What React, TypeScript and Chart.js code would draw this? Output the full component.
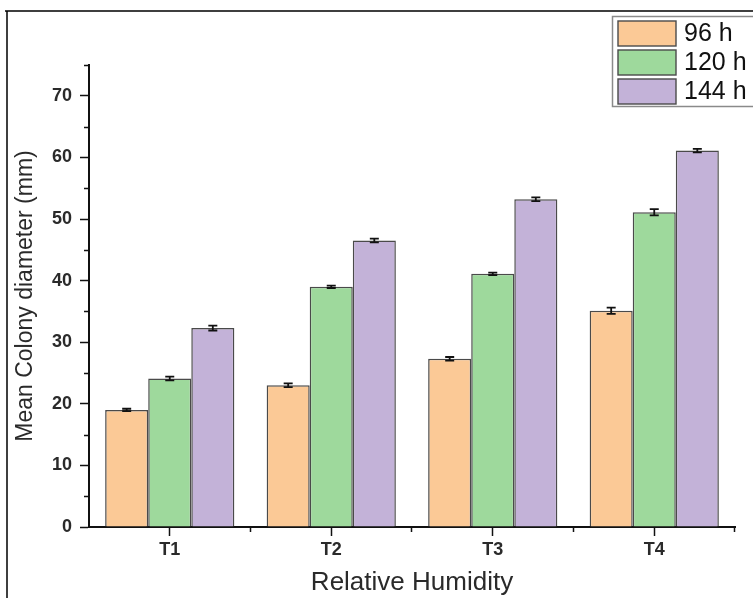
import React, { useEffect, useRef } from 'react';
import { Chart, registerables } from 'chart.js';

Chart.register(...registerables);

const categories = ['T1', 'T2', 'T3', 'T4'];
const seriesLabels = ['96 h', '120 h', '144 h'];
const series96 = [19.0, 23.0, 27.3, 35.1];
const series120 = [24.1, 39.0, 41.1, 51.1];
const series144 = [32.3, 46.5, 53.2, 61.1];
const err96 = [0.2, 0.3, 0.3, 0.5];
const err120 = [0.3, 0.2, 0.2, 0.5];
const err144 = [0.4, 0.3, 0.3, 0.3];
const yMin = 0;
const yMax = 75;
const yStep = 10;
const yMinorStep = 5;

const seriesValues = [series96, series120, series144];
const seriesErrors = [err96, err120, err144];
const seriesColors = ['#FBC996', '#9ED99C', '#C3B2D8'];

const FONT = '"Liberation Sans", Arial, Helvetica, sans-serif';

export default function App() {
  const ref = useRef<HTMLCanvasElement>(null);

  useEffect(() => {
    document.body.style.margin = '0';
    const canvas = ref.current;
    if (!canvas) return;

    const background = {
      id: 'background',
      beforeDraw(chart: any) {
        const ctx = chart.ctx;
        ctx.save();
        ctx.fillStyle = '#ffffff';
        ctx.fillRect(0, 0, chart.width, chart.height);
        ctx.strokeStyle = '#000000';
        ctx.lineWidth = 1.5;
        ctx.beginPath();
        ctx.moveTo(5, 11);
        ctx.lineTo(chart.width, 11);
        ctx.moveTo(7, 11);
        ctx.lineTo(7, chart.height);
        ctx.stroke();
        ctx.restore();
      },
    };

    const errorBars = {
      id: 'errorBars',
      afterDatasetsDraw(chart: any) {
        const ctx = chart.ctx;
        const y = chart.scales.y;
        chart.data.datasets.forEach((ds: any, i: number) => {
          const meta = chart.getDatasetMeta(i);
          const errs = seriesErrors[i];
          meta.data.forEach((el: any, j: number) => {
            const v = ds.data[j];
            const e = errs[j];
            const yt = y.getPixelForValue(v + e);
            const yb = y.getPixelForValue(v - e);
            ctx.save();
            ctx.strokeStyle = '#111111';
            ctx.lineWidth = 1.8;
            ctx.beginPath();
            ctx.moveTo(el.x, yt);
            ctx.lineTo(el.x, yb);
            ctx.moveTo(el.x - 4.5, yt);
            ctx.lineTo(el.x + 4.5, yt);
            ctx.moveTo(el.x - 4.5, yb);
            ctx.lineTo(el.x + 4.5, yb);
            ctx.stroke();
            ctx.restore();
          });
        });
      },
    };

    const minorTicks = {
      id: 'minorTicks',
      afterDraw(chart: any) {
        const ctx = chart.ctx;
        const ys = chart.scales.y;
        const xs = chart.scales.x;
        const area = chart.chartArea;
        ctx.save();
        ctx.strokeStyle = '#111111';
        ctx.lineWidth = 1.5;
        ctx.beginPath();
        for (let v = yMin + yMinorStep; v <= yMax; v += yStep) {
          const py = Math.round(ys.getPixelForValue(v)) + 0.5;
          ctx.moveTo(area.left - 5, py);
          ctx.lineTo(area.left, py);
        }
        const n = categories.length;
        for (let k = 1; k <= n; k++) {
          const px = Math.round(xs.left + (k * (xs.right - xs.left)) / n) - 0.5;
          ctx.moveTo(px, area.bottom);
          ctx.lineTo(px, area.bottom + 5);
        }
        ctx.stroke();
        ctx.restore();
      },
    };

    const boxLegend = {
      id: 'boxLegend',
      afterDraw(chart: any) {
        const ctx = chart.ctx;
        ctx.save();
        ctx.fillStyle = '#ffffff';
        ctx.fillRect(612, 16, 141, 91);
        ctx.strokeStyle = '#8a8a8a';
        ctx.lineWidth = 1.5;
        ctx.strokeRect(612.5, 16.5, 145, 90);
        chart.data.datasets.forEach((ds: any, i: number) => {
          const top = 21 + i * 29;
          ctx.fillStyle = ds.backgroundColor;
          ctx.fillRect(618, top, 58, 25);
          ctx.strokeStyle = '#4a4a4a';
          ctx.lineWidth = 1.4;
          ctx.strokeRect(618, top, 58, 25);
          ctx.fillStyle = '#111111';
          ctx.font = `25px ${FONT}`;
          ctx.textBaseline = 'middle';
          ctx.textAlign = 'left';
          ctx.fillText(ds.label, 684, top + 13);
        });
        ctx.restore();
      },
    };

    const chart = new Chart(canvas, {
      type: 'bar',
      data: {
        labels: categories,
        datasets: seriesLabels.map((label, i) => ({
          label,
          data: seriesValues[i],
          backgroundColor: seriesColors[i],
          borderColor: '#4a4a4a',
          borderWidth: 1.5,
          categoryPercentage: 0.8,
          barPercentage: 1.0,
        })),
      },
      options: {
        responsive: false,
        animation: false,
        devicePixelRatio: 1,
        layout: { padding: { left: 0, top: 65, right: 18, bottom: 0 } },
        plugins: {
          legend: { display: false },
          tooltip: { enabled: false },
          title: { display: false },
        },
        scales: {
          x: {
            afterFit(scale: any) {
              scale.height = 71;
            },
            grid: {
              display: true,
              offset: false,
              drawOnChartArea: false,
              drawTicks: true,
              tickLength: 9,
              tickWidth: 1.5,
              tickColor: '#111111',
            },
            border: { display: true, color: '#111111', width: 2 },
            ticks: {
              color: '#2a2a2a',
              padding: 3,
              font: { family: FONT, size: 18, weight: 'bold' },
            },
            title: {
              display: true,
              text: 'Relative Humidity',
              color: '#2a2a2a',
              padding: { top: 0, bottom: 0 },
              font: { family: FONT, size: 26 },
            },
          },
          y: {
            min: yMin,
            max: yMax,
            afterFit(scale: any) {
              scale.width = 89;
            },
            grid: {
              display: true,
              drawOnChartArea: false,
              drawTicks: true,
              tickLength: 9,
              tickWidth: 1.5,
              tickColor: '#111111',
            },
            border: { display: true, color: '#111111', width: 2 },
            ticks: {
              stepSize: yStep,
              includeBounds: false,
              color: '#2a2a2a',
              padding: 8,
              font: { family: FONT, size: 18, weight: 'bold' },
            },
            title: {
              display: true,
              text: 'Mean Colony diameter (mm)',
              color: '#2a2a2a',
              padding: { top: 12, bottom: 0 },
              font: { family: FONT, size: 23 },
            },
          },
        },
      },
      plugins: [background, errorBars, minorTicks, boxLegend],
    } as any);

    return () => {
      chart.destroy();
    };
  }, []);

  return (
    <div style={{ width: 753, height: 598, position: 'relative' }}>
      <canvas ref={ref} width={753} height={598} style={{ display: 'block', width: 753, height: 598 }} />
    </div>
  );
}
